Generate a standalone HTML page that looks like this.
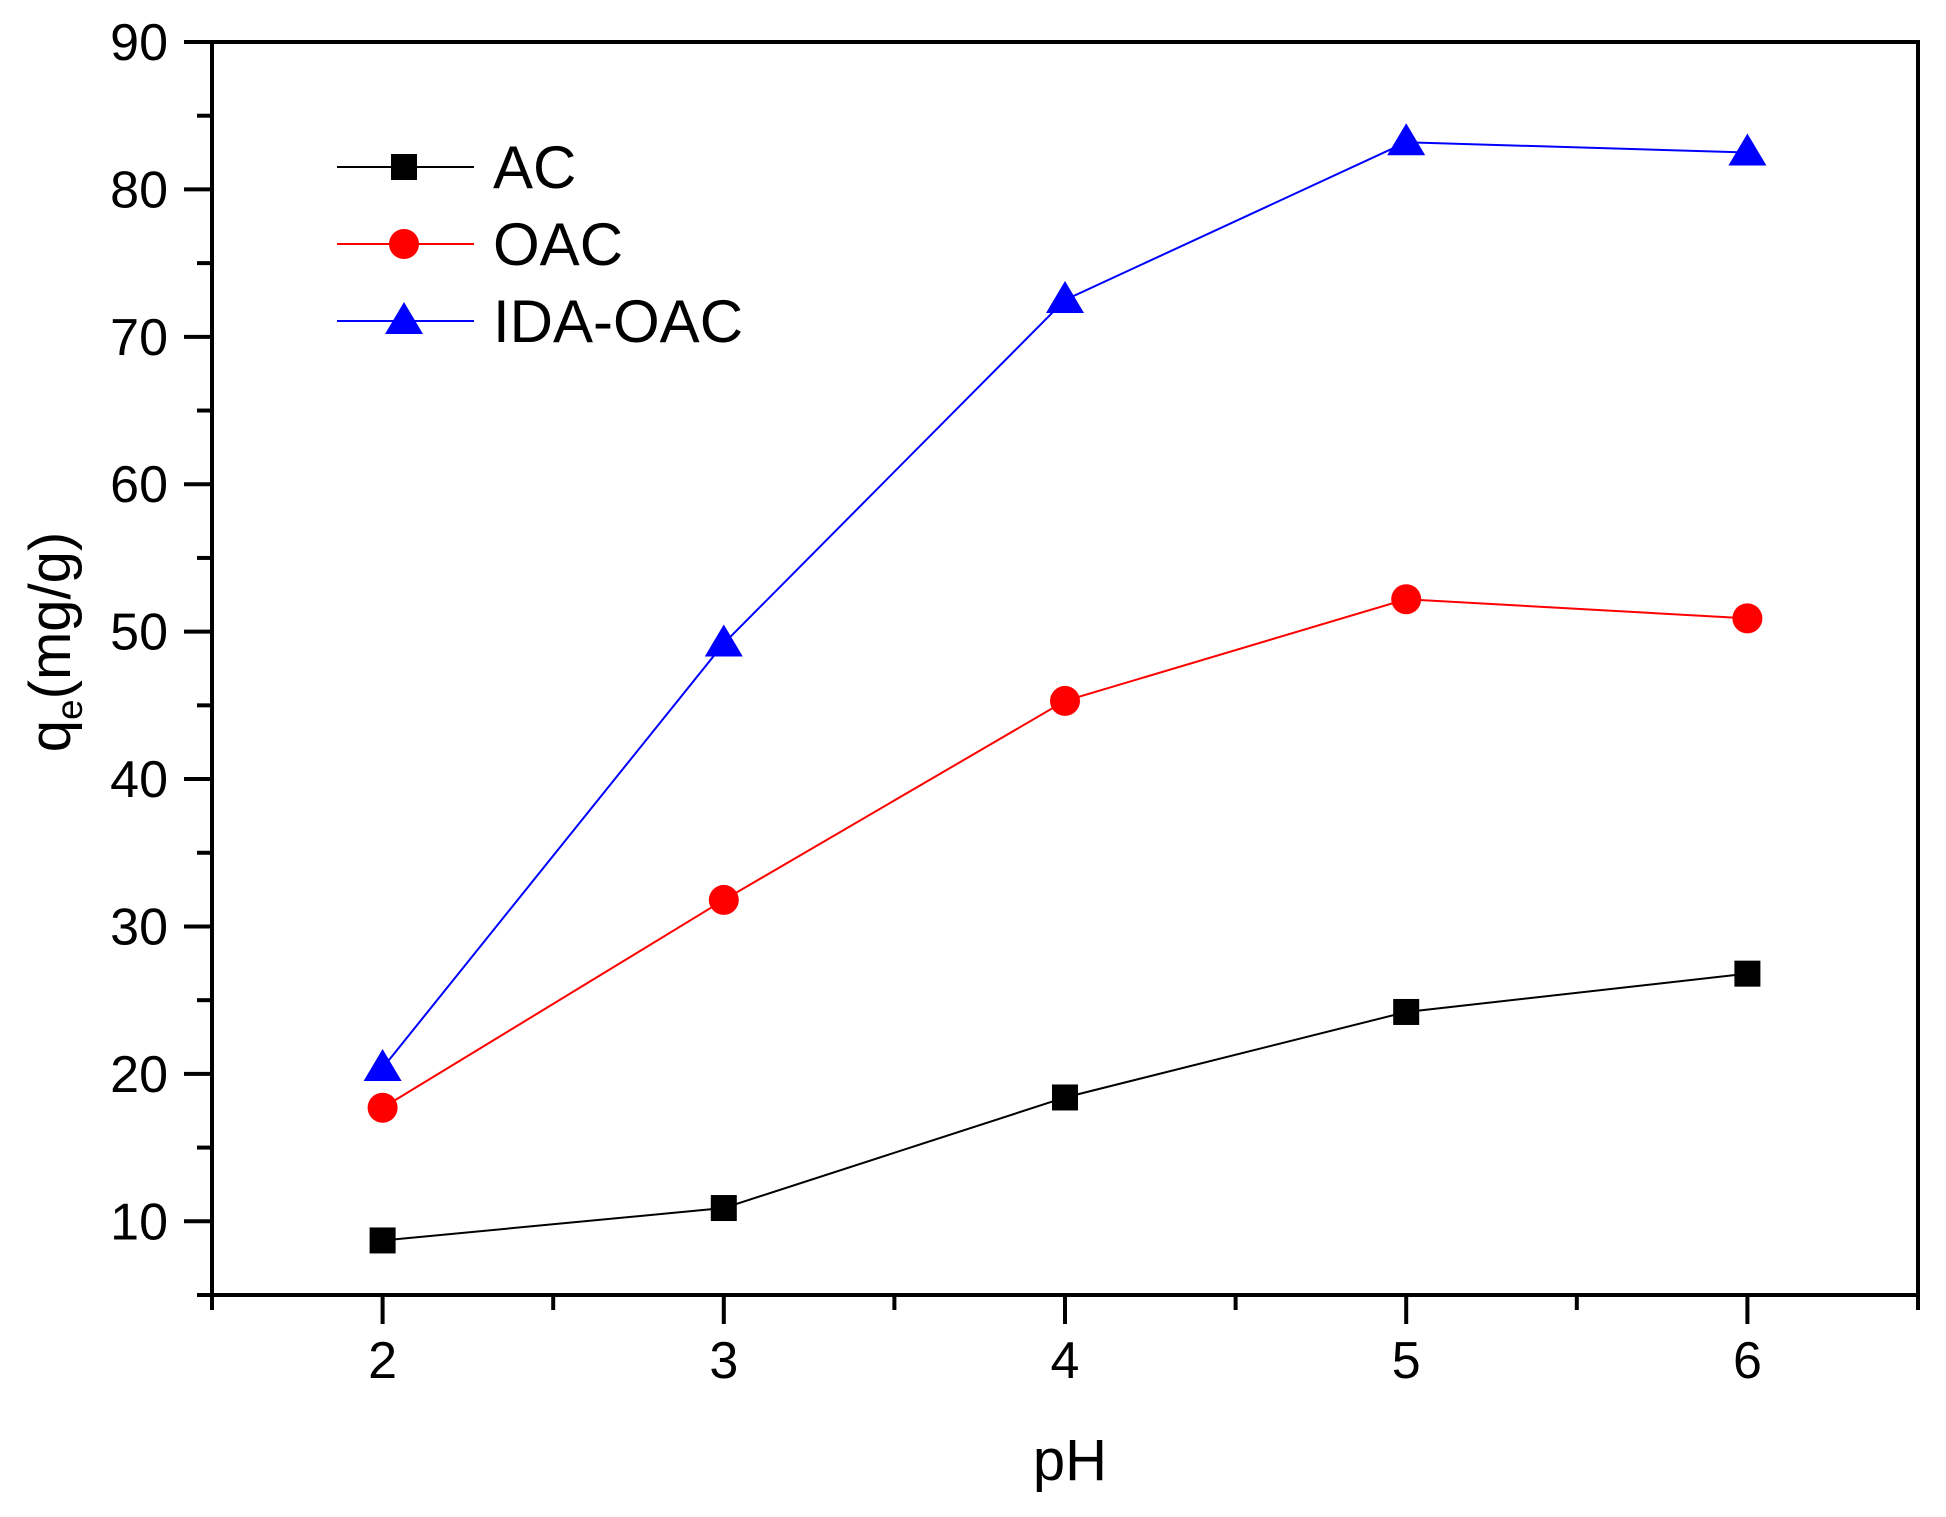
<!DOCTYPE html>
<html><head><meta charset="utf-8"><style>
html,body{margin:0;padding:0;background:#fff;}
svg{display:block;font-family:"Liberation Sans",Arial,sans-serif;}
</style></head><body>
<svg id="chart" width="1946" height="1517" viewBox="0 0 1946 1517"></svg>
<script>
const categories = [2, 3, 4, 5, 6];
const acValues = [8.7, 10.9, 18.4, 24.2, 26.8];
const oacValues = [17.7, 31.8, 45.3, 52.2, 50.9];
const idaValues = [20.4, 49.2, 72.5, 83.2, 82.5];
const yTickLabels = [10, 20, 30, 40, 50, 60, 70, 80, 90];
const xTickLabels = [2, 3, 4, 5, 6];

const NS = 'http://www.w3.org/2000/svg';
const svg = document.getElementById('chart');
const L = 212, R = 1918, T = 42, B = 1295;
const xMin = 1.5, xMax = 6.5, yMin = 5, yMax = 90;
const xs = v => L + (v - xMin) / (xMax - xMin) * (R - L);
const ys = v => B - (v - yMin) / (yMax - yMin) * (B - T);
function mk(tag, attrs, parent) {
  const e = document.createElementNS(NS, tag);
  for (const k in attrs) e.setAttribute(k, attrs[k]);
  (parent || svg).appendChild(e);
  return e;
}
const frame = mk('rect', {x: L, y: T, width: R - L, height: B - T, fill: 'none', stroke: '#000', 'stroke-width': 4});


const yAxis = mk('g', {});


for (let v = 5; v <= 90; v += 5) {
  const major = v % 10 === 0;
  mk('line', {x1: L - (major ? 28 : 15), x2: L, y1: ys(v), y2: ys(v), stroke: '#000', 'stroke-width': 4}, yAxis);
}
yTickLabels.forEach(v => {
  const t = mk('text', {x: 168, y: ys(v) + 18, 'text-anchor': 'end', 'font-size': 52}, yAxis);
  t.textContent = v;
  
  
});
const xAxis = mk('g', {});


for (let v = 1.5; v <= 6.51; v += 0.5) {
  const major = Math.abs(v - Math.round(v)) < 0.01;
  mk('line', {x1: xs(v), x2: xs(v), y1: B, y2: B + (major ? 29 : 15), stroke: '#000', 'stroke-width': 4}, xAxis);
}
xTickLabels.forEach(v => {
  const t = mk('text', {x: xs(v), y: 1378, 'text-anchor': 'middle', 'font-size': 52}, xAxis);
  t.textContent = v;
  
  
});
const xt = mk('text', {x: 1070, y: 1480, 'text-anchor': 'middle', 'font-size': 58});
xt.textContent = 'pH';


const yt = mk('text', {transform: 'translate(70,642) rotate(-90)', 'text-anchor': 'middle', 'font-size': 58});
yt.innerHTML = 'q<tspan font-size="37" dy="12">e</tspan><tspan dy="-12">(mg/g)</tspan>';



function marker(g, type, cx, cy, color) {
  if (type === 'square') return mk('rect', {x: cx - 13, y: cy - 13, width: 26, height: 26, fill: color}, g);
  if (type === 'circle') return mk('circle', {cx, cy, r: 15, fill: color}, g);
  return mk('polygon', {points: `${cx},${cy - 19} ${cx - 19},${cy + 13} ${cx + 19},${cy + 13}`, fill: color}, g);
}
const series = [
  {name: 'AC', vals: acValues, color: '#000', m: 'square', key: 'ac'},
  {name: 'OAC', vals: oacValues, color: '#ff0000', m: 'circle', key: 'oac'},
  {name: 'IDA-OAC', vals: idaValues, color: '#0000ff', m: 'triangle', key: 'ida-oac'}
];
series.forEach((s, i) => {
  const g = mk('g', {});
  
  
  const pts = categories.map((c, j) => xs(c) + ',' + ys(s.vals[j])).join(' ');
  mk('polyline', {points: pts, fill: 'none', stroke: s.color, 'stroke-width': 2}, g);
  categories.forEach((c, j) => {
    const p = marker(g, s.m, xs(c), ys(s.vals[j]), s.color);
    
    
  });
  const ly = 167 + i * 77;
  const lg = mk('g', {});
  
  
  mk('line', {x1: 337, x2: 474, y1: ly, y2: ly, stroke: s.color, 'stroke-width': 2}, lg);
  marker(lg, s.m, 404, ly, s.color);
  const t = mk('text', {x: 493, y: ly + 21, 'font-size': 60}, lg);
  t.textContent = s.name;
});
</script>
</body></html>
